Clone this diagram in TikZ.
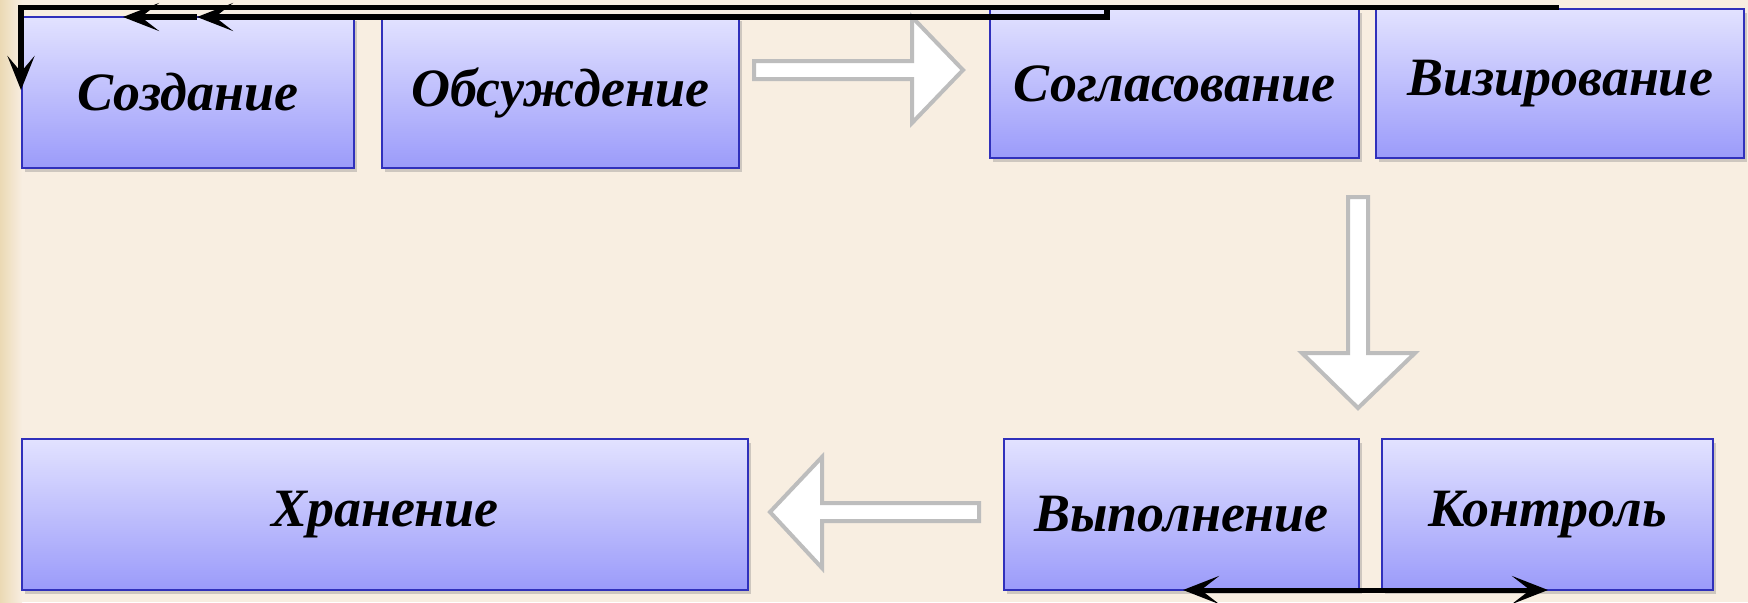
\documentclass[tikz,border=0pt]{standalone}
\usepackage{fontspec}
\setmainfont{Liberation Serif}
\usetikzlibrary{arrows.meta,shadows}
\definecolor{bgcol}{HTML}{F8EEE1}
\definecolor{edgecol}{HTML}{EBD9B4}
\definecolor{boxtop}{HTML}{E2E2FF}
\definecolor{boxbot}{HTML}{9B9BFA}
\definecolor{boxline}{HTML}{3030BB}
\definecolor{blockgray}{HTML}{BDBDBD}
\newcommand{\boxtext}[1]{\raisebox{-1.5pt}{#1}}
\tikzset{
  box/.style={draw=boxline, line width=1pt, top color=boxtop, bottom color=boxbot,
    inner sep=0pt, font=\fontsize{27}{30}\selectfont\bfseries\itshape,
    drop shadow={shadow xshift=1.5pt, shadow yshift=-2pt, opacity=0.35}},
  conn/.style={line width=2.8pt, black},
  tipl/.style={-{Stealth[length=18pt,width=14pt,inset=9pt]}},
  blockarrow/.style={draw=blockgray, line width=2pt, fill=white, line join=miter}
}
\begin{document}
\begin{tikzpicture}[x=0.5pt,y=-0.5pt]
\fill[bgcol] (0,0) rectangle (1748,602);
\shade[left color=edgecol, right color=bgcol] (0,0) rectangle (22,602);
\useasboundingbox (0,0) rectangle (1748,602);

\node[box, minimum width=166pt, minimum height=75.5pt] (sozd) at (188,92.5) {\boxtext{Создание}};
\node[box, minimum width=178.5pt, minimum height=75.5pt] (obsu) at (560.5,92.5) {\boxtext{Обсуждение}};
\node[box, minimum width=184.5pt, minimum height=74.5pt] (sogl) at (1174.5,83.5) {\boxtext{Согласование}};
\node[box, minimum width=184pt, minimum height=74.5pt] (viz) at (1560,83.5) {\boxtext{Визирование}};
\node[box, minimum width=363pt, minimum height=75.5pt] (hran) at (385,514.5) {\boxtext{Хранение}};
\node[box, minimum width=177.5pt, minimum height=75.5pt] (vyp) at (1181.5,514.5) {\boxtext{Выполнение}};
\node[box, minimum width=165.5pt, minimum height=75.5pt] (kont) at (1547.5,514.5) {\boxtext{Контроль}};

% block arrows
\draw[blockarrow] (754,61) -- (912,61) -- (912,17) -- (963,70) -- (912,123) -- (912,79) -- (754,79) -- cycle;
\draw[blockarrow] (1348,197) -- (1368,197) -- (1368,353) -- (1415,353) -- (1358,408) -- (1302,353) -- (1348,353) -- cycle;
\draw[blockarrow] (979,503) -- (979,521) -- (822,521) -- (822,568) -- (770,512) -- (822,457) -- (822,503) -- cycle;

% top connectors
\coordinate (outstart) at (1559,7.5);
\coordinate (outcorner) at (21,7.5);
\coordinate (outend) at (21,90);
\draw[conn, line join=miter, -{Stealth[length=17pt,width=13.5pt,inset=8pt]}] (outstart) -- (outcorner) -- (outend);
\coordinate (injoin) at (1107,7.5);
\coordinate (inturn) at (1107,17);
\coordinate (inmid) at (197,17);
\coordinate (inend) at (123,17);
\draw[conn, line join=miter, tipl] (injoin) -- (inturn) -- (inmid);
\draw[conn, tipl] (inmid) -- (inend);

% bottom double arrow
\coordinate (bl) at (1183,590);
\coordinate (br) at (1548,590);
\draw[conn, line width=2.5pt, {Stealth[length=18pt,width=14pt,inset=9pt]}-{Stealth[length=18pt,width=14pt,inset=9pt]}] (bl) -- (br);
\end{tikzpicture}
\end{document}
